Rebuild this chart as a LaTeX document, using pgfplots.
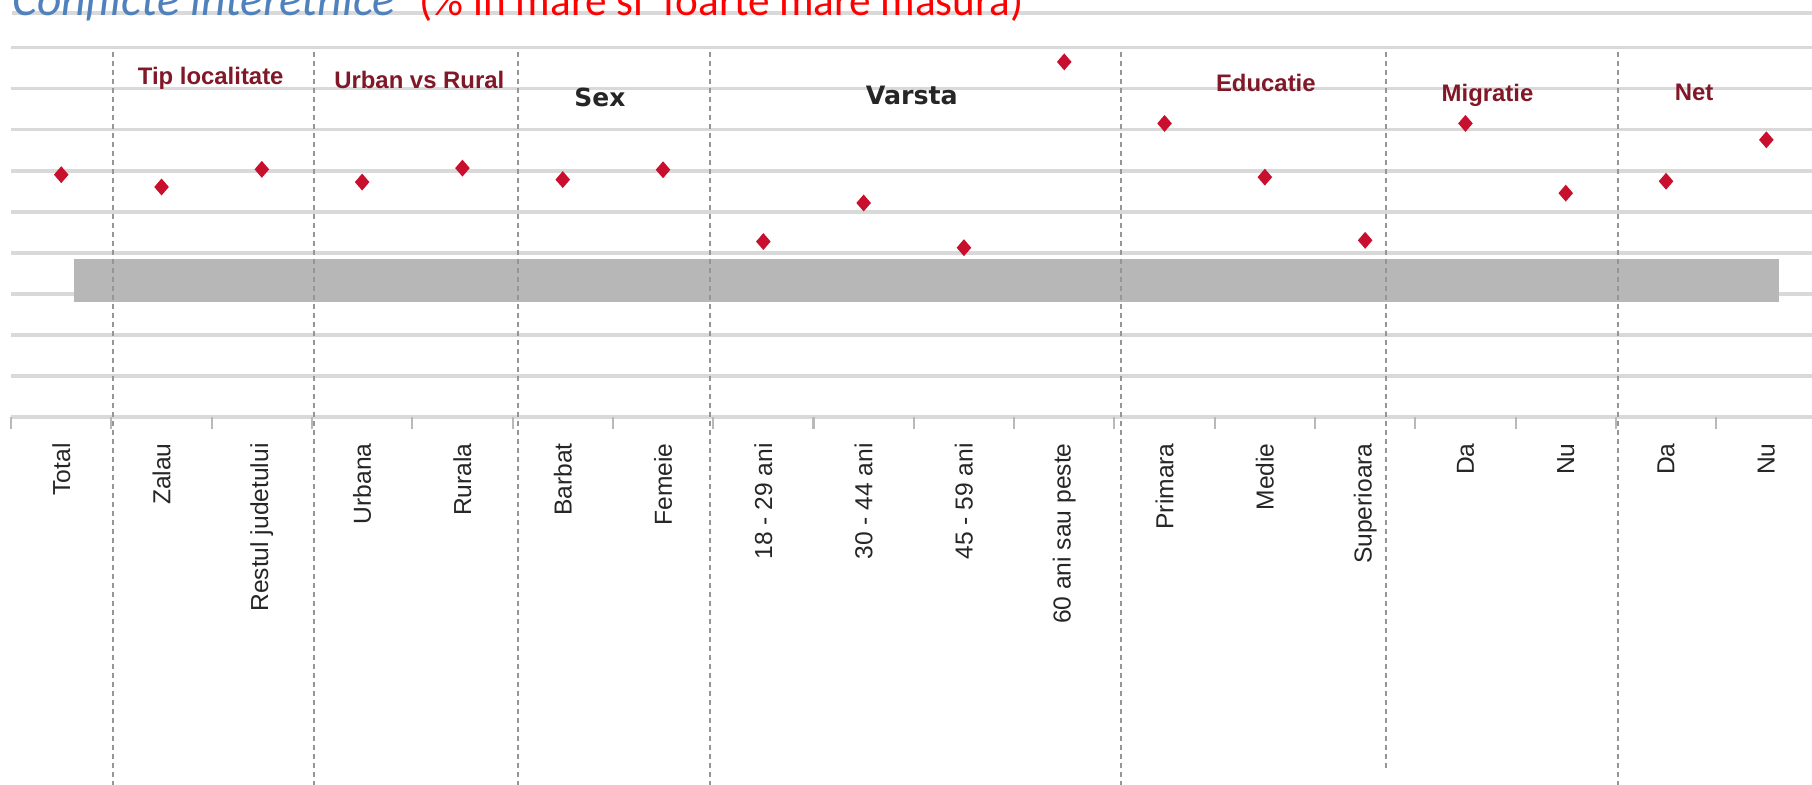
\documentclass[border=0pt]{standalone}
\usepackage{fontspec}
\setmainfont{Liberation Sans}
\newfontfamily\carlito{Carlito}
\newfontfamily\dejavu{DejaVu Sans}
\usepackage{pgfplots}
\pgfplotsset{compat=1.18}
\definecolor{dotred}{RGB}{200,16,46}
\definecolor{grpred}{RGB}{128,24,40}
\definecolor{ttlblue}{RGB}{79,129,189}
\definecolor{bandgray}{RGB}{183,183,183}
\definecolor{gridgray}{RGB}{217,217,217}
\definecolor{sepgray}{RGB}{150,150,150}
\begin{document}
\begin{tikzpicture}
\draw[gridgray, line width=0.9pt] (0.117,7.71) -- (18.2,7.71);
\begin{axis}[
  at={(0.111cm,3.673cm)}, anchor=south west,
  scale only axis, width=18.054cm, height=3.692cm,
  xmin=-0.5, xmax=17.5, ymin=0, ymax=90,
  clip=false,
  axis line style={draw=none},
  ytick={0,10,...,90}, yticklabels={}, ymajorgrids,
  major grid style={gridgray, line width=1.1pt},
  ytick style={draw=none},
  xtick={0,...,17},
  xticklabels={Total, Zalau, Restul judetului, Urbana, Rurala, Barbat, Femeie, 18 - 29 ani, 30 - 44 ani, 45 - 59 ani, 60 ani sau peste, Primara, Medie, Superioara, Da, Nu, Da, Nu},
  major tick length=0pt,
  minor xtick={-0.5,0.5,...,17.5},
  minor tick length=0.12cm,
  tick align=outside, tick pos=left,
  every minor tick/.append style={gray!55, line width=0.6pt},
  xticklabel style={rotate=90, anchor=east, inner sep=0pt, font=\fontsize{7}{8}\selectfont, text=black!85},
  xticklabel shift=0.26cm,
]
% grey band
\addplot[draw=none, fill=bandgray] coordinates {(0.125,28.0) (17.13,28.0) (17.13,38.4) (0.125,38.4)} -- cycle;
% dashed separators
\addplot[sepgray, line width=0.6pt, dash pattern=on 0.05cm off 0.04cm] coordinates {(0.52,89) (0.52,-95)};
\addplot[sepgray, line width=0.6pt, dash pattern=on 0.05cm off 0.04cm] coordinates {(2.52,89) (2.52,-95)};
\addplot[sepgray, line width=0.6pt, dash pattern=on 0.05cm off 0.04cm] coordinates {(4.55,89) (4.55,-95)};
\addplot[sepgray, line width=0.6pt, dash pattern=on 0.05cm off 0.04cm] coordinates {(6.47,89) (6.47,-95)};
\addplot[sepgray, line width=0.6pt, dash pattern=on 0.05cm off 0.04cm] coordinates {(10.57,89) (10.57,-95)};
\addplot[sepgray, line width=0.6pt, dash pattern=on 0.05cm off 0.04cm] coordinates {(13.21,89) (13.21,-85.6)};
\addplot[sepgray, line width=0.6pt, dash pattern=on 0.05cm off 0.04cm] coordinates {(15.52,89) (15.52,-95)};
% data
\addplot[only marks, mark=diamond*, mark size=2.1pt, mark options={xscale=1.15}, color=dotred] coordinates {
(0,59.0) (1,56.0) (2,60.3) (3,57.2) (4,60.6) (5,57.8) (6,60.2)
(7,42.7) (8,52.1) (9,41.2) (10,86.5) (11,71.5) (12,58.4) (13,43.0)
(14,71.5) (15,54.5) (16,57.4) (17,67.5)};
% group labels
\node[anchor=base, inner sep=0pt, text=grpred, font=\bfseries\fontsize{6.8}{8}\selectfont] at (axis cs:1.49,80.9) {Tip localitate};
\node[anchor=base, inner sep=0pt, text=grpred, font=\bfseries\fontsize{6.8}{8}\selectfont] at (axis cs:3.57,80.1) {Urban vs Rural};
\node[anchor=base, inner sep=0pt, text=black!85, font=\dejavu\bfseries\fontsize{7.1}{8}\selectfont] at (axis cs:5.37,75.6) {Sex};
\node[anchor=base, inner sep=0pt, text=black!85, font=\dejavu\bfseries\fontsize{7.2}{8}\selectfont] at (axis cs:8.48,76.2) {Varsta};
\node[anchor=base, inner sep=0pt, text=grpred, font=\bfseries\fontsize{6.8}{8}\selectfont] at (axis cs:12.01,79.2) {Educatie};
\node[anchor=base, inner sep=0pt, text=grpred, font=\bfseries\fontsize{6.8}{8}\selectfont] at (axis cs:14.22,76.8) {Migratie};
\node[anchor=base, inner sep=0pt, text=grpred, font=\bfseries\fontsize{6.8}{8}\selectfont] at (axis cs:16.28,77.0) {Net};
\end{axis}
\node[anchor=base west, inner sep=0pt, text=ttlblue, font=\carlito\itshape\fontsize{13.5}{15}\selectfont] at (0.117,7.69) {Conflicte interetnice};
\node[anchor=base west, inner sep=0pt, text=red, font=\carlito\fontsize{12.3}{14}\selectfont] at (4.19,7.69) {(\% in mare si\ \ foarte mare masura)};
\pgfresetboundingbox
\path[use as bounding box] (0,0) rectangle (18.12,7.84);
\end{tikzpicture}
\end{document}
